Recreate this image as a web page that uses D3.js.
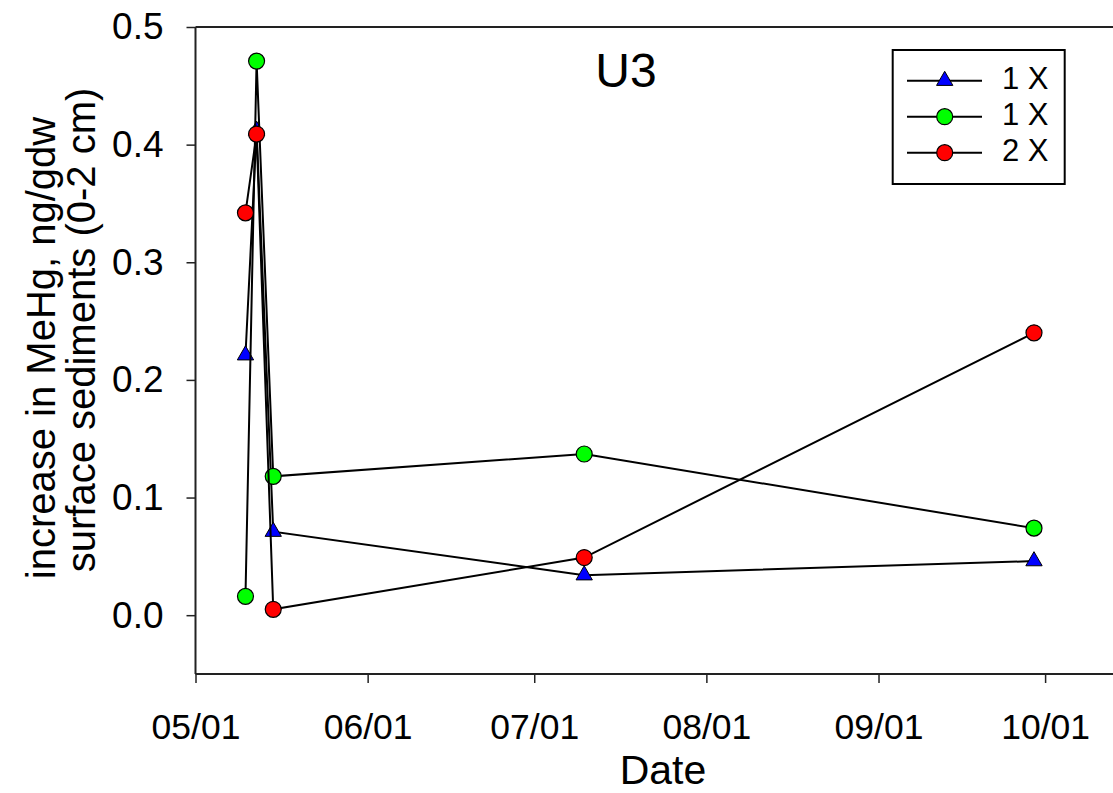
<!DOCTYPE html>
<html>
<head>
<meta charset="utf-8">
<script src="https://cdn.jsdelivr.net/npm/d3@7"></script>
<style>
  html, body { margin: 0; padding: 0; background: #fff; }
  svg { display: block; font-family: "Liberation Sans", Arial, sans-serif; }
</style>
</head>
<body>
<svg id="chart" width="1113" height="793"></svg>
<script>
// ---- data ----
const dates = ["2000-05-10", "2000-05-12", "2000-05-15", "2000-07-10", "2000-09-29"];
const series1X_a = [0.221, 0.412, 0.071, 0.034, 0.046];   // blue triangles
const series1X_b = [0.016, 0.471, 0.118, 0.137, 0.074];   // green circles
const series2X   = [0.342, 0.409, 0.005, 0.049, 0.240];   // red circles
const seriesNames = ["1 X", "1 X", "2 X"];
const xTickDates = ["2000-05-01", "2000-06-01", "2000-07-01", "2000-08-01", "2000-09-01", "2000-10-01"];
const yTicks = [0.0, 0.1, 0.2, 0.3, 0.4, 0.5];
const title = "U3";
const xTitle = "Date";
const yTitleLines = ["increase in MeHg, ng/gdw", "surface sediments (0-2 cm)"];

const parse = d3.utcParse("%Y-%m-%d");
const fmt = d3.utcFormat("%m/%d");

const series = [
  { name: seriesNames[0], values: series1X_a, color: "#0000ff", symbol: "triangle" },
  { name: seriesNames[1], values: series1X_b, color: "#00ff00", symbol: "circle" },
  { name: seriesNames[2], values: series2X,   color: "#ff0000", symbol: "circle" }
];

// ---- layout ----
const mLeft = 195.5, mTop = 27, mBottom = 674, mRight = 1113;
const svg = d3.select("#chart");

const x = d3.scaleUtc()
  .domain([parse("2000-05-01"), parse("2000-10-01")])
  .range([mLeft, 1045.1]);
const y = d3.scaleLinear().domain([-0.05, 0.5]).range([mBottom, mTop]);

// frame lines (top & bottom extend to the right edge, left axis)
svg.append("line").attr("x1", mLeft).attr("x2", mRight).attr("y1", mTop).attr("y2", mTop)
  .attr("stroke", "#222").attr("stroke-width", 2);
svg.append("line").attr("x1", mLeft).attr("x2", mRight).attr("y1", mBottom).attr("y2", mBottom)
  .attr("stroke", "#222").attr("stroke-width", 2);
svg.append("line").attr("x1", mLeft).attr("x2", mLeft).attr("y1", mTop).attr("y2", mBottom)
  .attr("stroke", "#222").attr("stroke-width", 2);

// x axis
const xAxis = d3.axisBottom(x)
  .tickValues(xTickDates.map(parse))
  .tickFormat(fmt)
  .tickSize(9).tickSizeOuter(0).tickPadding(31);
const gx = svg.append("g").attr("transform", `translate(0,${mBottom})`).call(xAxis);
gx.select(".domain").remove();
gx.selectAll(".tick line").attr("stroke", "#222").attr("stroke-width", 1.5);
gx.selectAll(".tick text").attr("font-size", 35.5).attr("fill", "#000")
  .attr("font-family", "Liberation Sans, Arial, sans-serif");

// y axis
const yAxis = d3.axisLeft(y)
  .tickValues(yTicks)
  .tickFormat(d3.format(".1f"))
  .tickSize(9).tickSizeOuter(0).tickPadding(23);
const gy = svg.append("g").attr("transform", `translate(${mLeft},0)`).call(yAxis);
gy.select(".domain").remove();
gy.selectAll(".tick line").attr("stroke", "#222").attr("stroke-width", 1.5);
gy.selectAll(".tick text").attr("font-size", 37).attr("fill", "#000")
  .attr("font-family", "Liberation Sans, Arial, sans-serif");

// titles
svg.append("text").attr("x", 626).attr("y", 87).attr("text-anchor", "middle")
  .attr("font-size", 48).text(title);
svg.append("text").attr("x", 663).attr("y", 784).attr("text-anchor", "middle")
  .attr("font-size", 41).text(xTitle);
const yt = svg.append("g");
const yTitleCenters = [348, 330];
yTitleLines.forEach((t, i) => {
  yt.append("text")
    .attr("transform", `translate(${55 + i * 40},${yTitleCenters[i]}) rotate(-90)`)
    .attr("text-anchor", "middle")
    .attr("font-size", 40)
    .text(t);
});

// series
const line = d3.line().x(d => x(d.date)).y(d => y(d.v));
const triangle = d3.symbol().type(d3.symbolTriangle).size(115);

function drawMarker(g, s, cx, cy) {
  if (s.symbol === "triangle") {
    g.append("path").attr("d", triangle())
      .attr("transform", `translate(${cx},${cy})`)
      .attr("fill", s.color).attr("stroke", "#000").attr("stroke-width", 1);
  } else {
    g.append("circle").attr("cx", cx).attr("cy", cy).attr("r", 8)
      .attr("fill", s.color).attr("stroke", "#000").attr("stroke-width", 1.2);
  }
}

series.forEach(s => {
  const pts = dates.map((d, i) => ({ date: parse(d), v: s.values[i] }));
  const g = svg.append("g");
  g.append("path").attr("d", line(pts)).attr("fill", "none")
    .attr("stroke", "#000").attr("stroke-width", 2);
  pts.forEach(p => drawMarker(g, s, x(p.date), y(p.v)));
});

// legend
const lg = svg.append("g");
lg.append("rect").attr("x", 892.7).attr("y", 50).attr("width", 172).attr("height", 134)
  .attr("fill", "#fff").attr("stroke", "#000").attr("stroke-width", 2);
series.forEach((s, i) => {
  const ry = 80.7 + i * 36;
  lg.append("line").attr("x1", 907).attr("x2", 982).attr("y1", ry).attr("y2", ry)
    .attr("stroke", "#000").attr("stroke-width", 2);
  drawMarker(lg, s, 944.7, ry);
  lg.append("text").attr("x", 1002).attr("y", ry + 8).attr("font-size", 31).text(s.name);
});
</script>
</body>
</html>
